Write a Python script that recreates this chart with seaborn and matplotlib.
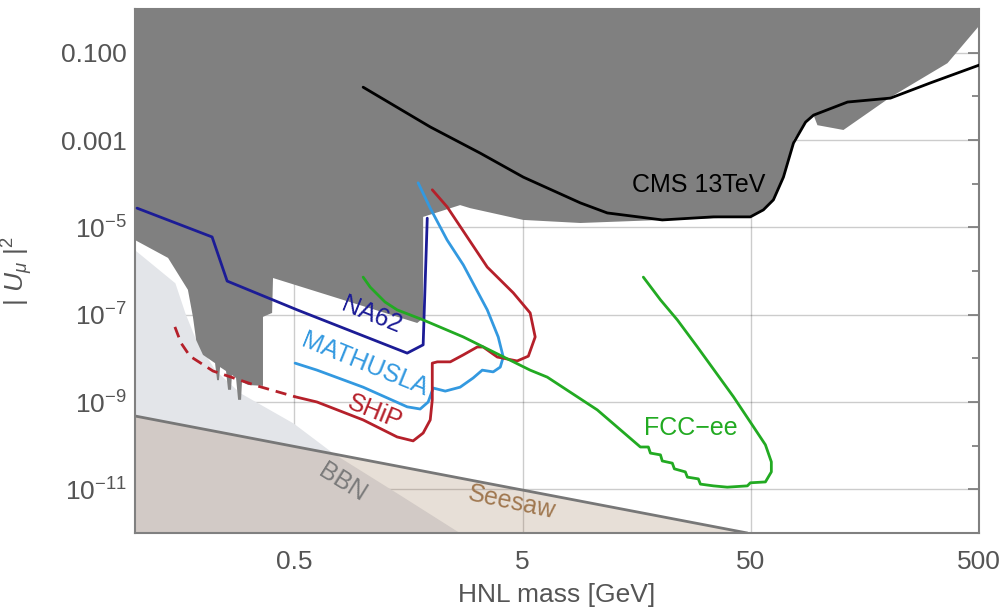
import numpy as np
import pandas as pd
import matplotlib
matplotlib.use("Agg")
import matplotlib.pyplot as plt
import seaborn as sns

# all values below are log10(mass / GeV) and log10(|U_mu|^2)

# existing exclusion (dark gray), closed polygon
excl_logm = [-1.00, -1.00, -0.855, -0.768, -0.746, -0.732, -0.702, -0.649, -0.640, -0.632,
             -0.627, -0.601, -0.592, -0.579, -0.575, -0.557, -0.548, -0.535, -0.531, -0.504,
             -0.439, -0.439, -0.399, -0.395, 0.237, 0.263, 0.263, 0.425, 0.469, 0.702,
             0.952, 1.311, 1.697, 1.772, 1.798, 1.842, 1.886, 1.939, 1.974, 1.991,
             2.105, 2.311, 2.561, 2.702, 2.702]
excl_logU2 = [0.00, -5.29, -5.70, -6.43, -7.05, -7.58, -7.92, -8.11, -8.50, -8.50,
              -8.20, -8.29, -8.72, -8.72, -8.38, -8.45, -8.95, -8.95, -8.54, -8.61,
              -8.63, -7.05, -6.96, -6.16, -7.19, -7.08, -4.76, -4.49, -4.56, -4.83,
              -4.90, -4.83, -4.76, -4.53, -4.37, -3.85, -3.00, -2.59, -2.43, -2.66,
              -2.77, -2.02, -1.24, -0.37, 0.00]

# BBN (light gray), upper edge
bbn_logm = [-1.00, -0.825, -0.781, -0.737, -0.649, -0.539, -0.307, -0.132, 0.162, 0.425]
bbn_logU2 = [-5.52, -6.27, -6.96, -7.53, -8.27, -8.79, -9.48, -10.17, -11.13, -12.0]

# seesaw line
seesaw_logm = [-1.00, 1.684]
seesaw_logU2 = [-9.32, -12.0]

na62_logm = [-0.991, -0.662, -0.596, -0.289, 0.193, 0.263, 0.281]
na62_logU2 = [-4.56, -5.22, -6.23, -6.89, -7.88, -7.69, -4.79]

mathusla_logm = [-0.298, -0.202, 0.000, 0.193, 0.250, 0.285, 0.307, 0.360, 0.425, 0.482,
                 0.522, 0.570, 0.601, 0.614, 0.592, 0.544, 0.439, 0.368, 0.294, 0.241]
mathusla_logU2 = [-8.11, -8.27, -8.66, -9.11, -9.16, -9.00, -8.68, -8.75, -8.66, -8.45,
                  -8.27, -8.31, -8.20, -7.97, -7.51, -6.89, -5.86, -5.29, -4.56, -3.98]

ship_dash_logm = [-0.825, -0.798, -0.759, -0.658, -0.465, -0.298]
ship_dash_logU2 = [-7.28, -7.65, -7.95, -8.29, -8.63, -8.88]

ship_logm = [-0.298, -0.202, 0.000, 0.149, 0.219, 0.263, 0.294, 0.303, 0.303, 0.325,
             0.382, 0.439, 0.500, 0.526, 0.588, 0.675, 0.724, 0.754, 0.732, 0.658,
             0.544, 0.456, 0.368, 0.303]
ship_logU2 = [-8.88, -9.00, -9.41, -9.80, -9.89, -9.71, -9.41, -8.95, -8.11, -8.08,
              -8.08, -7.92, -7.74, -7.74, -7.97, -8.06, -7.95, -7.51, -6.96, -6.50,
              -5.91, -5.22, -4.53, -4.14]

fcc_logm = [0.000, 0.031, 0.096, 0.149, 0.263, 0.439, 0.732, 0.807, 1.026, 1.215,
            1.250, 1.259, 1.303, 1.311, 1.355, 1.364, 1.412, 1.421, 1.469, 1.478,
            1.535, 1.596, 1.684, 1.697, 1.763, 1.789, 1.789, 1.763, 1.711, 1.623,
            1.465, 1.377, 1.303, 1.228]
fcc_logU2 = [-6.14, -6.37, -6.71, -6.89, -7.12, -7.51, -8.27, -8.43, -9.18, -10.03,
             -10.03, -10.17, -10.21, -10.35, -10.40, -10.53, -10.60, -10.72, -10.76, -10.88,
             -10.92, -10.95, -10.92, -10.85, -10.83, -10.60, -10.37, -9.98, -9.57, -8.88,
             -7.74, -7.12, -6.66, -6.14]

cms_logm = [0.000, 0.294, 0.513, 0.702, 0.952, 1.070, 1.311, 1.535, 1.697, 1.754,
            1.798, 1.842, 1.886, 1.939, 1.974, 2.123, 2.311, 2.487, 2.702]
cms_logU2 = [-1.79, -2.70, -3.30, -3.85, -4.44, -4.67, -4.83, -4.76, -4.76, -4.60,
             -4.37, -3.85, -3.07, -2.59, -2.43, -2.13, -2.04, -1.69, -1.28]

xtick_vals = [0.5, 5, 50, 500]
xtick_labels = ["0.5", "5", "50", "500"]
ytick_vals = [1e-1, 1e-3, 1e-5, 1e-7, 1e-9, 1e-11]
ytick_labels = ["0.100", "0.001", r"$10^{-5}$", r"$10^{-7}$", r"$10^{-9}$", r"$10^{-11}$"]


def p(v):
    return 10 ** np.asarray(v, dtype=float)


sns.set_theme(style="white")
plt.rcParams["font.family"] = ["Liberation Sans", "DejaVu Sans"]
plt.rcParams["mathtext.fontset"] = "custom"
plt.rcParams["mathtext.rm"] = "Liberation Sans"
plt.rcParams["mathtext.it"] = "Liberation Sans:italic"

fig = plt.figure(figsize=(10.05, 6.10), dpi=100)
ax = fig.add_axes([0.1343, 0.1262, 0.8398, 0.859])
ax.set_xscale("log")
ax.set_yscale("log")

# shaded regions
ax.fill_between(p(bbn_logm), p(bbn_logU2), 1e-12, color="#e3e5e9", lw=0, zorder=1)
ax.fill_between(p(seesaw_logm), p(seesaw_logU2), 1e-12, color=(0.59, 0.43, 0.29),
                alpha=0.22, lw=0, zorder=1.1)
ax.fill(p(excl_logm), p(excl_logU2), color="#808080", lw=0, zorder=1.7)

lw = 2.0
sns.lineplot(x=p(seesaw_logm), y=p(seesaw_logU2), color="#777777", lw=lw,
             sort=False, estimator=None, ax=ax, zorder=2)
sns.lineplot(x=p(na62_logm), y=p(na62_logU2), color="#1c1c96", lw=lw,
             sort=False, estimator=None, ax=ax, zorder=3)
sns.lineplot(x=p(mathusla_logm), y=p(mathusla_logU2), color="#3399e0", lw=lw,
             sort=False, estimator=None, ax=ax, zorder=3)
sns.lineplot(x=p(ship_logm), y=p(ship_logU2), color="#b5202a", lw=lw,
             sort=False, estimator=None, ax=ax, zorder=3)
sns.lineplot(x=p(ship_dash_logm), y=p(ship_dash_logU2), color="#b5202a", lw=lw,
             linestyle=(0, (4, 2.5)), sort=False, estimator=None, ax=ax, zorder=3)
sns.lineplot(x=p(fcc_logm), y=p(fcc_logU2), color="#22aa22", lw=lw,
             sort=False, estimator=None, ax=ax, zorder=3)
sns.lineplot(x=p(cms_logm), y=p(cms_logU2), color="black", lw=lw,
             sort=False, estimator=None, ax=ax, zorder=3)

ax.set_xlim(0.1, 500)
ax.set_ylim(1e-12, 1)

# ticks
ax.set_xticks(xtick_vals)
ax.set_xticklabels(xtick_labels)
ax.set_xticks([1, 10, 100], minor=True)
ax.set_xticklabels([], minor=True)
ax.set_yticks(ytick_vals)
ax.set_yticklabels(ytick_labels)
ax.set_yticks([1e-2, 1e-4, 1e-6, 1e-8, 1e-10], minor=True)
ax.set_yticklabels([], minor=True)
ax.tick_params(which="both", direction="in", top=True, right=True, color="#777777",
               labelcolor="#555555", labelsize=19)
ax.tick_params(which="major", length=8, width=1.2)
ax.tick_params(which="minor", length=5, width=1.2)
ax.tick_params(axis="x", pad=12)
ax.tick_params(axis="y", pad=6)
ax.grid(True, which="major", color="#000000", alpha=0.2, lw=1)

for s in ax.spines.values():
    s.set_color("#808080")
    s.set_linewidth(1.5)

ax.set_xlabel("HNL mass [GeV]", fontsize=19, color="#555555")
ax.set_ylabel(r"$|\ U_\mu\ |^2$", fontsize=19, color="#555555")
ax.xaxis.set_label_coords(0.5, -0.095)
ax.yaxis.set_label_coords(-0.118, 0.5)

# labels
ax.text(29.5, 9.3e-5, "CMS 13TeV", fontsize=18, color="black", ha="center", va="center", zorder=4)
ax.text(1.09, 9.8e-8, "NA62", fontsize=18, color="#1c1c96", rotation=-22, ha="center", va="center", zorder=4)
ax.text(1.02, 7.1e-9, "MATHUSLA", fontsize=18, color="#3399e0", rotation=-22, ha="center", va="center", zorder=4)
ax.text(1.12, 5.9e-10, "SHiP", fontsize=18, color="#b5202a", rotation=-22, ha="center", va="center", zorder=4)
ax.text(0.81, 1.4e-11, "BBN", fontsize=18, color="#7a7a7a", rotation=-32, ha="center", va="center", zorder=4)
ax.text(4.5, 5.1e-12, "Seesaw", fontsize=18, color="#a07850", rotation=-12, ha="center", va="center", zorder=4)
ax.text(27.2, 2.5e-10, "FCC\u2212ee", fontsize=18, color="#22aa22", ha="center", va="center", zorder=4)

fig.savefig("out.png", dpi=100)
